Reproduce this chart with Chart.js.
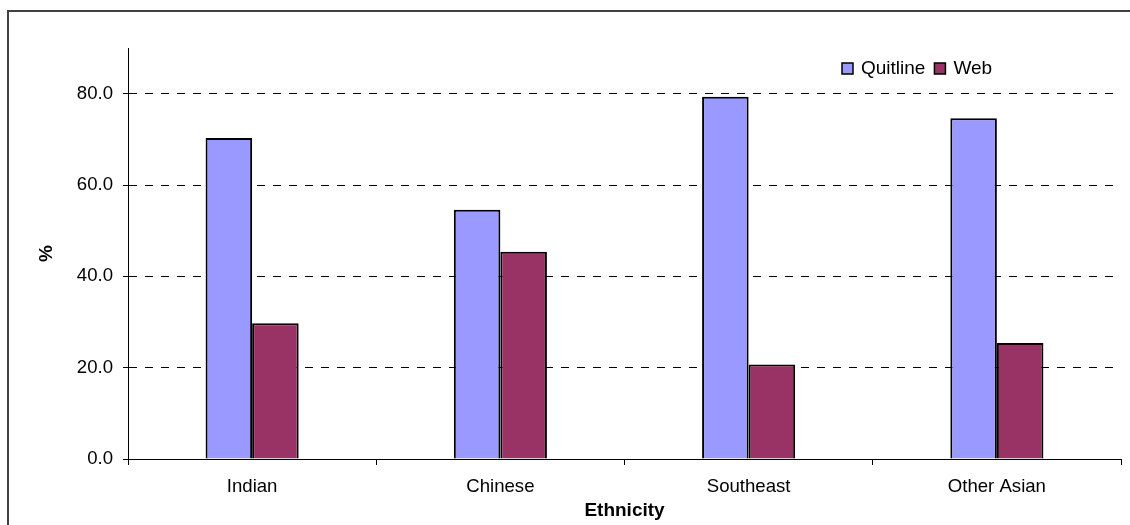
<!DOCTYPE html>
<html>
<head>
<meta charset="utf-8">
<script src="https://cdn.jsdelivr.net/npm/chart.js@4/dist/chart.umd.min.js"></script>
<style>
  html, body { margin: 0; padding: 0; background: #fff; }
  canvas { display: block; }
</style>
</head>
<body>
<canvas id="c" width="1130" height="525"></canvas>
<script>
// Share of quit attempts by channel, per ethnic group (%)
const categories = ['Indian', 'Chinese', 'Southeast', 'Other Asian'];
const quitline = [70.3, 54.6, 79.3, 74.6];
const web = [29.7, 45.4, 20.7, 25.4];
const yTicks = [0, 20, 40, 60, 80];
const yMax = 90;

const FONT = '"Liberation Sans", Arial, sans-serif';

// Outer frame around the whole chart
const framePlugin = {
  id: 'frame',
  beforeDraw(chart) {
    const ctx = chart.ctx;
    ctx.save();
    ctx.strokeStyle = '#404040';
    ctx.lineWidth = 2;
    ctx.strokeRect(8, 11, 1300, 700);
    ctx.restore();
  }
};

// Compact legend placed inside the plot, top right
const legendPlugin = {
  id: 'insideLegend',
  afterDraw(chart) {
    const ctx = chart.ctx;
    ctx.save();
    ctx.font = '19px ' + FONT;
    ctx.textBaseline = 'middle';
    ctx.textAlign = 'left';
    let x = 842;
    const y = 63;
    const box = 11;
    chart.data.datasets.forEach(ds => {
      ctx.fillStyle = ds.backgroundColor;
      ctx.fillRect(x, y, box, box);
      ctx.strokeStyle = '#000';
      ctx.lineWidth = 1.5;
      ctx.strokeRect(x, y, box, box);
      ctx.fillStyle = '#000';
      const tx = x + box + 8;
      ctx.fillText(ds.label, tx, y + box / 2 + 0.5);
      x = tx + ctx.measureText(ds.label).width + 9;
    });
    ctx.restore();
  }
};

new Chart(document.getElementById('c'), {
  type: 'bar',
  data: {
    labels: categories,
    datasets: [
      { label: 'Quitline', data: quitline, backgroundColor: '#9999FF', borderColor: '#000', borderWidth: 2 },
      { label: 'Web', data: web, backgroundColor: '#993366', borderColor: '#000', borderWidth: 2 }
    ]
  },
  options: {
    responsive: false,
    animation: false,
    devicePixelRatio: 1,
    layout: { padding: { top: 48, right: 9, left: 8, bottom: 0 } },
    datasets: { bar: { categoryPercentage: 0.375, barPercentage: 1 } },
    plugins: {
      legend: { display: false },
      tooltip: { enabled: false }
    },
    scales: {
      x: {
        grid: { display: true, drawOnChartArea: false, tickLength: 6, color: '#000', offset: true },
        border: { color: '#000', width: 1 },
        ticks: { padding: 11, color: '#000', font: { family: FONT, size: 18.6 }, maxRotation: 0, autoSkip: false },
        title: { display: true, text: 'Ethnicity', color: '#000', font: { family: FONT, size: 19, weight: 'bold' }, padding: { top: 0, bottom: 3 } },
        afterFit(scale) { scale.height = 66; }
      },
      y: {
        min: 0,
        max: yMax,
        afterBuildTicks(scale) { scale.ticks = yTicks.map(v => ({ value: v })); },
        grid: { color: '#000', tickLength: 5, tickBorderDash: [] },
        border: { color: '#000', width: 1, dash: [8, 8] },
        ticks: { padding: 10, color: '#000', font: { family: FONT, size: 18.6 }, callback: v => Number(v).toFixed(1) },
        title: { display: true, text: '%', color: '#000', font: { family: FONT, size: 19, weight: 'bold' }, padding: { top: 27.6, bottom: 0 } },
        afterFit(scale) { scale.width = 120; }
      }
    }
  },
  plugins: [framePlugin, legendPlugin]
});
</script>
</body>
</html>
